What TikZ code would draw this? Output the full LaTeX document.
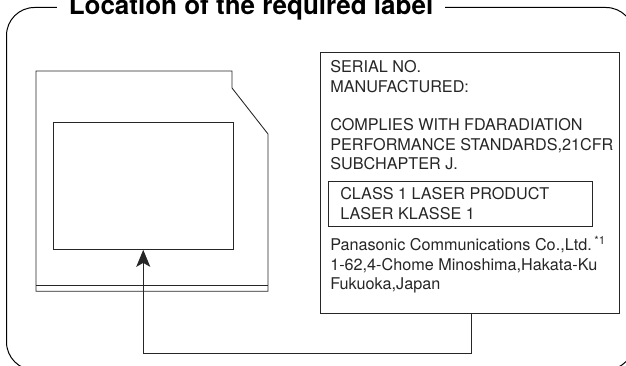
\documentclass[tikz,border=0pt]{standalone}
\usepackage{fontspec}
\setmainfont{TeX Gyre Heros}
\usetikzlibrary{arrows.meta}
\newcommand{\labelfont}{\fontsize{12.15pt}{14.75pt}\selectfont}
\tikzset{
  wire/.style={line width=0.65pt, black!85},
  plate/.style={draw=black!85, line width=0.65pt, rectangle, inner sep=0pt},
  print/.style={anchor=north west, inner sep=0pt, align=left, font=\labelfont, black!85},
}
\begin{document}
\begin{tikzpicture}[x=0.75pt, y=-0.75pt]

%% Picture window, same pixels as the reference (y runs downwards).
\useasboundingbox (0,0) rectangle (626,366);

%% ---------- outer frame and heading ----------
\draw[line width=0.75pt, rounded corners=21pt] (6.5,7.5) rectangle (634,370);
\node[fill=white, inner xsep=9pt, inner ysep=0pt, anchor=base, font=\fontsize{19.5pt}{22pt}\selectfont\bfseries]
  (heading) at (251,14.7) {Location of the required label};

%% ---------- drive outline ----------
\draw[wire] (36,71) -- (232,71) -- (232,88) -- (268,134) -- (268,291.3)
  -- (36,291.3) -- cycle;
\draw[wire] (36,285.3) -- (268,285.3);
\node[plate, minimum width=135.4pt, minimum height=95.6pt] (screen) at (143.25,185.7) {};

%% ---------- the label ----------
\node[plate, minimum width=224.5pt, minimum height=195.8pt] (labelbox) at (470,183.2) {};
\node[plate, minimum width=198pt, minimum height=33.5pt] (classbox) at (460.3,204) {};

\node[print] (serial) at (330,60.5) {SERIAL NO.\\MANUFACTURED:};
\node[print] (complies) at (330,118) {COMPLIES WITH FDARADIATION\\PERFORMANCE STANDARDS,21CFR\\SUBCHAPTER J.};
\node[print] (classtext) at (340,187.3) {CLASS 1 LASER PRODUCT\\LASER KLASSE 1};
\node[print] (maker) at (330,236.2) {Panasonic Communications Co.,Ltd.\,\textsuperscript{*1}\\1-62,4-Chome Minoshima,Hakata-Ku\\Fukuoka,Japan};

%% ---------- from the label to its place on the drive ----------
\coordinate (bend) at (471,353);
\draw[wire, -{Stealth[length=12.75pt, width=10.5pt, inset=3pt]}]
  (bend |- labelbox.south) -- (bend) -- (bend -| screen.south) -- (screen.south);

\end{tikzpicture}
\end{document}
